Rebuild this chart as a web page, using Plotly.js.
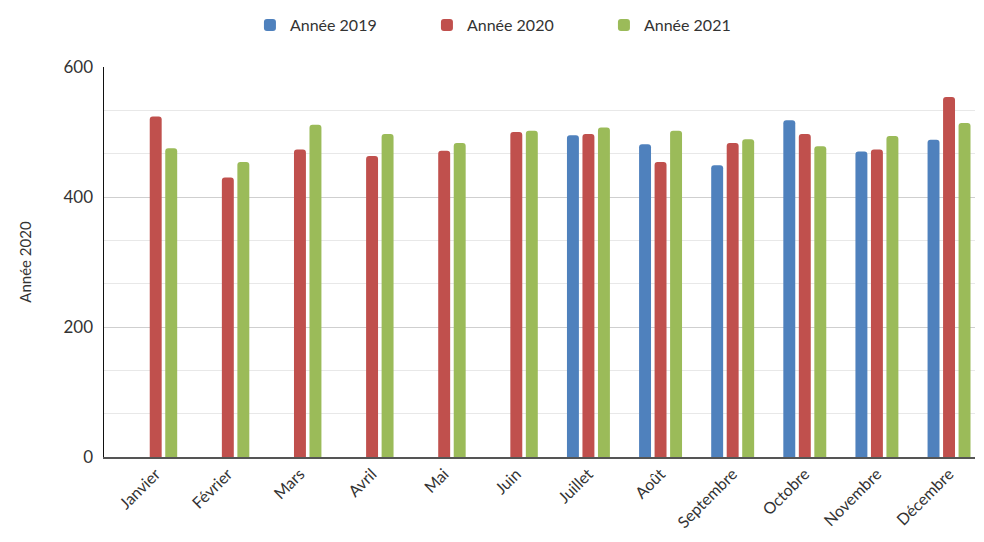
<!DOCTYPE html>
<html>
<head>
<meta charset="utf-8">
<script src="https://cdn.plot.ly/plotly-3.0.1.min.js"></script>
<style>html,body{margin:0;padding:0;background:#fff;}#chart{width:984px;height:542px;}</style>
</head>
<body>
<div id="chart"></div>
<script>
const months = ["Janvier","Février","Mars","Avril","Mai","Juin","Juillet","Août","Septembre","Octobre","Novembre","Décembre"];
const annee2019 = [null,null,null,null,null,null,495,481,449,518,470,488];
const annee2020 = [524,430,473,463,471,500,497,454,483,497,473,554];
const annee2021 = [475,454,511,497,483,502,507,502,489,478,494,514];
const seriesNames = ["Année 2019","Année 2020","Année 2021"];
const colors = ["#4F81BD","#C0504D","#9BBB59"];

const data = [annee2019, annee2020, annee2021].map((vals, i) => ({
  type: "bar",
  name: seriesNames[i],
  x: months,
  y: vals,
  marker: {color: colors[i], cornerradius: 3},
  hoverinfo: "x+y+name"
}));

const layout = {
  width: 984, height: 542,
  margin: {l: 104, r: 9, t: 67, b: 85},
  paper_bgcolor: "#fff", plot_bgcolor: "#fff",
  font: {family: "Lato, 'Open Sans', sans-serif", color: "#333"},
  barmode: "group",
  bargap: 0.355,
  bargroupgap: 0.23,
  showlegend: true,
  legend: {orientation: "h", xref: "container", x: 0.254, xanchor: "left", y: 0.985, yanchor: "top", yref: "container",
           font: {size: 16, color: "#333"}, itemwidth: 30, entrywidth: 132, entrywidthmode: "pixels", traceorder: "normal"},
  xaxis: {
    type: "category",
    range: [-0.717, 11.36],
    tickangle: -45,
    tickfont: {size: 16, color: "#333"},
    showgrid: false,
    showline: true, linecolor: "#555", linewidth: 1.5,
    ticks: "", zeroline: false
  },
  yaxis: {
    range: [0, 600],
    tickvals: [0, 200, 400, 600],
    tickfont: {size: 17, color: "#333"},
    showgrid: true, gridcolor: "#cfcfcf", gridwidth: 1,
    minor: {tickvals: [66.67,133.33,266.67,333.33,466.67,533.33], showgrid: true, gridcolor: "#e8e8e8", gridwidth: 1},
    showline: true, linecolor: "#111", linewidth: 1.5,
    zeroline: false,
    ticks: "", ticklabelstandoff: 6,
    title: {text: "Année 2020", font: {size: 15, color: "#333"}, standoff: 28}
  }
};

Plotly.newPlot("chart", data, layout, {displayModeBar: false, staticPlot: true});
</script>
</body>
</html>
